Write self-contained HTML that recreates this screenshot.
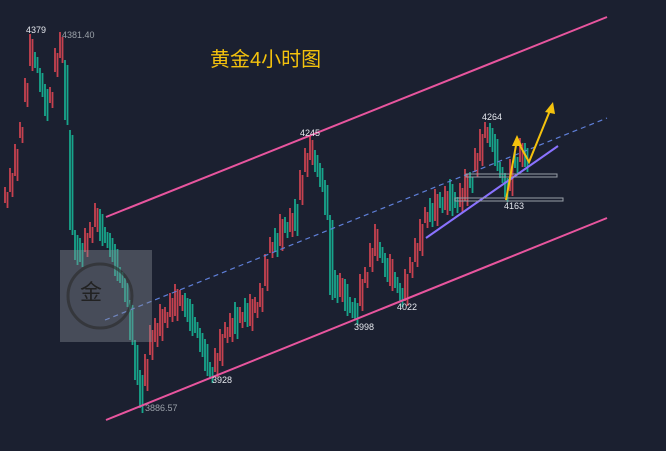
<!DOCTYPE html>
<html><head><meta charset="utf-8"><style>
html,body{margin:0;padding:0;background:#1b2030;width:666px;height:451px;overflow:hidden}
svg{display:block}
text{font-family:"Liberation Sans",sans-serif}
</style></head><body>
<svg width="666" height="451" xmlns="http://www.w3.org/2000/svg" xmlns:xlink="http://www.w3.org/1999/xlink">
<rect width="666" height="451" fill="#1b2030"/>
<g id="cd">
<path fill="none" stroke="#c7414f" stroke-width="1.8" d="M5 187V203M10 168V192M15 144V176M20 122V138M25 78V102M30 34V66M50 87V103M55 48V72M60 32V58M85 228V252M90 222V238M95 203V227M145 354V386M150 325V355M155 318V342M160 304V336M165 307V323M170 293V317M175 284V316M180 290V306M215 348V372M220 329V361M225 322V338M230 313V337M240 307V323M250 294V326M255 297V313M260 283V307M265 254V286M270 237V253M280 214V246M290 208V232M300 170V200M305 148V172M310 135V160M340 273V297M360 274V306M365 267V283M370 243V267M375 224V256M390 254V286M405 269V301M410 257V273M415 238V262M420 219V251M425 207V223M435 189V221M445 186V210M460 183V207M465 169V201M475 148V172M480 129V161M485 122V138M510 159V191M520 138V162"/>
<path fill="none" stroke="#17a58b" stroke-width="1.8" d="M35 52V68M40 68V92M45 84V116M65 60V120M70 130V230M75 230V260M80 238V262M100 209V241M105 227V243M110 233V257M115 244V276M120 267V283M125 278V302M130 300V340M135 340V380M140 370V408M185 293V317M190 299V331M195 317V333M200 328V352M205 339V371M210 362V378M235 302V334M245 298V322M275 228V252M285 217V233M295 199V231M315 150V172M320 163V187M325 180V215M330 215V295M335 270V298M345 279V311M350 297V313M355 298V320M380 242V258M385 253V277M395 272V288M400 283V302M430 198V222M440 192V208M450 179V211M455 192V208M470 172V188M490 123V147M495 134V166M500 162V178M505 173V197M515 152V168M525 143V167"/>
</g>
<use xlink:href="#cd" href="#cd" transform="translate(2.5,5)"/>
<line x1="106" y1="217" x2="607" y2="17" stroke="#e8559e" stroke-width="2"/>
<line x1="106" y1="420" x2="607" y2="218" stroke="#e8559e" stroke-width="2"/>
<line x1="105" y1="320" x2="607" y2="118" stroke="#5f7fd8" stroke-width="1.2" stroke-dasharray="5,4"/>
<line x1="426" y1="238" x2="558" y2="146" stroke="#8a72ff" stroke-width="2"/>
<rect x="466" y="174" width="91" height="3" fill="none" stroke="#9aa0a8" stroke-width="1"/>
<rect x="455" y="198" width="108" height="3" fill="none" stroke="#9aa0a8" stroke-width="1"/>
<polyline points="506,200 517,140 529,162 551,108" fill="none" stroke="#f4c20d" stroke-width="2"/>
<polygon points="517,135 512,146 522,146" fill="#f4c20d"/>
<polygon points="553,102 545,112 555,114" fill="#f4c20d"/>
<rect x="60" y="250" width="92" height="92" fill="#8a8f98" opacity="0.4"/>
<circle cx="100" cy="296" r="32" fill="none" stroke="#2a2a2a" stroke-width="3" opacity="0.6"/>
<text x="80" y="300" font-size="22" fill="#222" font-family="Noto Serif CJK SC,serif">金</text>
<text x="210" y="66" font-size="20" fill="#f4c20d" font-family="Liberation Sans,Noto Sans CJK SC,sans-serif">黄金4小时图</text>
<g font-size="9" fill="#e6e8ee">
<text x="26" y="33">4379</text>
<text x="62" y="38" fill="#9aa0a8">4381.40</text>
<text x="300" y="136">4245</text>
<text x="482" y="120">4264</text>
<text x="504" y="209">4163</text>
<text x="397" y="310">4022</text>
<text x="354" y="330">3998</text>
<text x="212" y="383">3928</text>
<text x="145" y="411" fill="#9aa0a8">3886.57</text>
</g>
</svg>
</body></html>
